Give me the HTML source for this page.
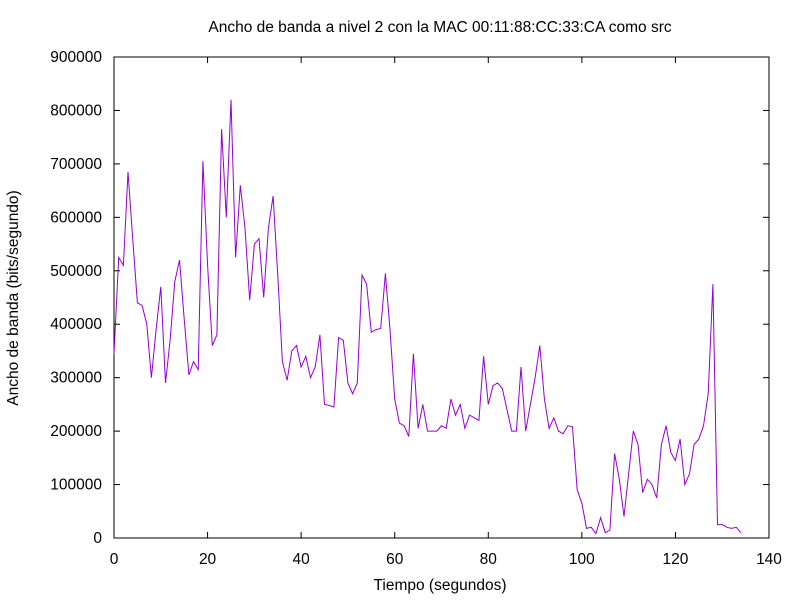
<!DOCTYPE html>
<html><head><meta charset="utf-8">
<style>
html,body{margin:0;padding:0;background:#fff;}
svg{display:block;font-family:"Liberation Sans",sans-serif;font-size:15.5px;}
</style></head>
<body>
<svg id="chart" width="800" height="600" viewBox="0 0 800 600">
<rect width="800" height="600" fill="#fff"/>
<text x="440" y="32" text-anchor="middle">Ancho de banda a nivel 2 con la MAC 00:11:88:CC:33:CA como src</text>
<text x="440" y="590" text-anchor="middle">Tiempo (segundos)</text>
<text transform="translate(18,298) rotate(-90)" text-anchor="middle">Ancho de banda (bits/segundo)</text>
<g id="axes"></g>
<rect x="114" y="57" width="655" height="481" fill="none" stroke="#000" stroke-width="1"/>
<polyline id="line" fill="none" stroke="#9400d3" stroke-width="1"/>
</svg>
<script>
const values = [345000,525000,510000,685000,560000,440000,435000,400000,300000,390000,
470000,290000,370000,480000,520000,410000,305000,330000,315000,705000,
510000,360000,380000,765000,600000,820000,525000,660000,580000,445000,
550000,560000,450000,580000,640000,490000,330000,295000,350000,360000,
320000,340000,300000,320000,380000,250000,248000,245000,375000,370000,
290000,270000,290000,492000,475000,385000,390000,392000,495000,390000,
260000,215000,210000,190000,345000,205000,250000,200000,200000,200000,
210000,205000,260000,230000,250000,205000,230000,225000,220000,340000,
250000,285000,290000,280000,240000,200000,200000,320000,200000,250000,
300000,360000,260000,205000,225000,200000,195000,210000,208000,90000,
65000,18000,20000,8000,38000,10000,15000,158000,110000,40000,
120000,200000,175000,85000,110000,100000,75000,175000,210000,160000,
145000,185000,100000,120000,175000,185000,210000,270000,475000,25000,
25000,20000,18000,20000,10000];
const xTicks = [0,20,40,60,80,100,120,140];
const yTicks = [0,100000,200000,300000,400000,500000,600000,700000,800000,900000];
const X0=114,X1=769,Y0=538,Y1=57;
function xs(v){return X0+(v-0)/140*(X1-X0);}
function ys(v){return Y0-(v/900000)*(Y0-Y1);}
const NS="http://www.w3.org/2000/svg";
const axes=document.getElementById('axes');
function mk(tag,attrs){const e=document.createElementNS(NS,tag);for(const k in attrs)e.setAttribute(k,attrs[k]);return e;}
xTicks.forEach(t=>{
  const x=xs(t);
  const l1=mk('line',{x1:x,x2:x,y1:Y0,y2:Y0-6,stroke:'#000'});
  
  
  axes.appendChild(l1);
  const l2=mk('line',{x1:x,x2:x,y1:Y1,y2:Y1+6,stroke:'#000'});
  
  
  axes.appendChild(l2);
  const tx=mk('text',{x:x,y:564,'text-anchor':'middle'});
  tx.textContent=t;
  
  
  axes.appendChild(tx);
});
yTicks.forEach(t=>{
  const y=ys(t);
  const l1=mk('line',{x1:X0,x2:X0+6,y1:y,y2:y,stroke:'#000'});
  
  
  axes.appendChild(l1);
  const l2=mk('line',{x1:X1,x2:X1-6,y1:y,y2:y,stroke:'#000'});
  
  
  axes.appendChild(l2);
  const tx=mk('text',{x:102,y:y+5,'text-anchor':'end'});
  tx.textContent=t;
  
  
  axes.appendChild(tx);
});
document.getElementById('line').setAttribute('points',values.map((v,i)=>xs(i).toFixed(1)+','+ys(v).toFixed(1)).join(' '));
</script>
</body></html>
